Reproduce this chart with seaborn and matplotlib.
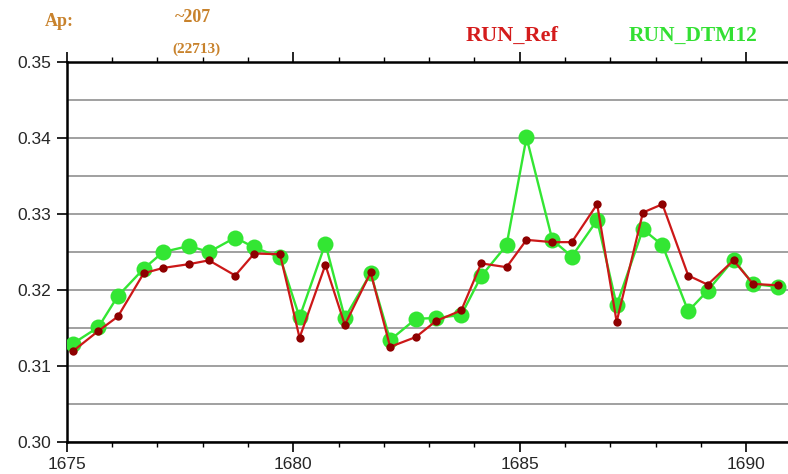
import matplotlib
matplotlib.use("Agg")
import matplotlib.pyplot as plt
import seaborn as sns
import pandas as pd
from matplotlib.ticker import MultipleLocator

# ---- data ----
x_vals = [1675.13, 1675.70, 1676.13, 1676.70, 1677.13, 1677.70, 1678.14, 1678.72,
          1679.14, 1679.71, 1680.14, 1680.71, 1681.14, 1681.71, 1682.14, 1682.71,
          1683.15, 1683.71, 1684.15, 1684.71, 1685.15, 1685.72, 1686.15, 1686.71,
          1687.14, 1687.72, 1688.15, 1688.72, 1689.15, 1689.72, 1690.15, 1690.71]
dtm12 = [0.3129, 0.3151, 0.3192, 0.3228, 0.3250, 0.3258, 0.3250, 0.3269,
         0.3256, 0.3243, 0.3164, 0.3261, 0.3163, 0.3222, 0.3134, 0.3162,
         0.3163, 0.3167, 0.3218, 0.3259, 0.3401, 0.3266, 0.3244, 0.3292,
         0.3180, 0.3280, 0.3259, 0.3172, 0.3199, 0.3240, 0.3208, 0.3204]
ref = [0.3119, 0.3146, 0.3165, 0.3222, 0.3229, 0.3234, 0.3239, 0.3219,
       0.3248, 0.3247, 0.3137, 0.3233, 0.3154, 0.3223, 0.3125, 0.3138,
       0.3159, 0.3173, 0.3235, 0.3230, 0.3266, 0.3263, 0.3263, 0.3313,
       0.3158, 0.3302, 0.3313, 0.3219, 0.3207, 0.3239, 0.3208, 0.3206]
series_names = ["RUN_Ref", "RUN_DTM12"]
ap_label = "Ap:"
ap_value = "~207"
ap_day = "(22713)"

df_g = pd.DataFrame({"x": x_vals, "y": dtm12})
df_r = pd.DataFrame({"x": x_vals, "y": ref})

sns.set_style("white")
plt.rcParams["font.family"] = ["Liberation Sans", "DejaVu Sans"]

W, H = 788, 474
fig = plt.figure(figsize=(W / 100, H / 100), dpi=100)
left, right, top, bottom = 66.7, 791.5, 62.3, 441.7
ax = fig.add_axes([left / W, 1 - bottom / H, (right - left) / W, (bottom - top) / H])

green = "#33e633"
sns.lineplot(data=df_g, x="x", y="y", ax=ax, color=green, linewidth=1.7,
             marker="o", markersize=11.5, markeredgewidth=0, markerfacecolor=green,
             zorder=3)
sns.lineplot(data=df_r, x="x", y="y", ax=ax, color="#cc1818", linewidth=1.6,
             marker="o", markersize=6.0, markeredgewidth=0, markerfacecolor="#8e0000",
             zorder=4)

ax.set_xlim(1675, 1691)
ax.set_ylim(0.30, 0.35)
ax.set_xlabel("")
ax.set_ylabel("")

ax.xaxis.set_major_locator(MultipleLocator(5))
ax.xaxis.set_minor_locator(MultipleLocator(1))
ax.yaxis.set_major_locator(MultipleLocator(0.01))
ax.yaxis.set_minor_locator(MultipleLocator(0.005))
ax.yaxis.set_major_formatter(matplotlib.ticker.FormatStrFormatter("%.2f"))

ax.grid(axis="y", which="both", color="#909090", linewidth=1.2)
ax.grid(axis="x", visible=False)
ax.set_axisbelow(True)

ax.tick_params(axis="x", which="major", direction="out", length=7, width=1.2,
               top=True, bottom=True, labelsize=12.5, pad=4, color="black")
ax.tick_params(axis="x", which="minor", direction="out", length=3.5, width=1.0,
               top=True, bottom=True, color="black")
ax.tick_params(axis="y", which="major", direction="out", length=7, width=1.2,
               left=True, labelsize=12.5, pad=4, color="black")
ax.tick_params(axis="y", which="minor", length=0, left=False)

for side in ["left", "bottom", "top"]:
    ax.spines[side].set_visible(True)
    ax.spines[side].set_color("black")
    ax.spines[side].set_linewidth(1.8)
ax.spines["right"].set_visible(False)

serif = ["Liberation Serif", "DejaVu Serif"]
orange = "#c8822c"
fig.text(59 / W, 1 - 22 / H, ap_label, ha="center", va="center", fontsize=13,
         fontweight="bold", color=orange, family=serif)
fig.text(193 / W, 1 - 17 / H, ap_value, ha="center", va="center", fontsize=13,
         fontweight="bold", color=orange, family=serif)
fig.text(196 / W, 1 - 49 / H, ap_day, ha="center", va="center", fontsize=11,
         fontweight="bold", color=orange, family=serif)
fig.text(512 / W, 1 - 36 / H, series_names[0], ha="center", va="center", fontsize=16,
         fontweight="bold", color="#d41c1c", family=serif)
fig.text(693 / W, 1 - 36 / H, series_names[1], ha="center", va="center", fontsize=15.5,
         fontweight="bold", color="#33e033", family=serif)

fig.savefig("out.png", dpi=100)
